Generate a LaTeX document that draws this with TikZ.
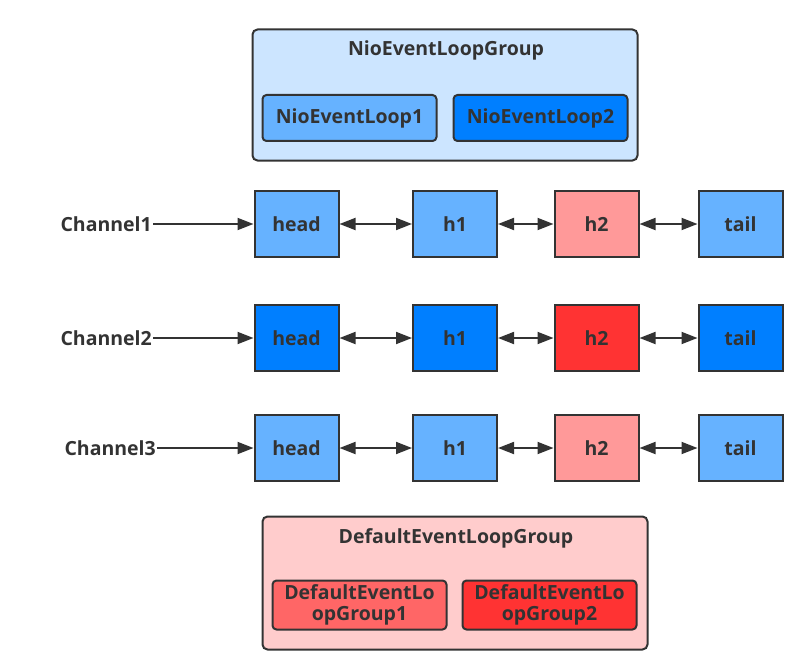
\documentclass[tikz,border=0pt]{standalone}
\usepackage{fontspec}
\setmainfont{Open Sans}
\usetikzlibrary{arrows.meta}
\definecolor{txt}{HTML}{333333}
\definecolor{lblue}{HTML}{66B2FF}
\definecolor{dblue}{HTML}{007FFF}
\definecolor{pblue}{HTML}{CCE5FF}
\definecolor{lred}{HTML}{FF9999}
\definecolor{dred}{HTML}{FF3333}
\definecolor{mred}{HTML}{FF6666}
\definecolor{pred}{HTML}{FFCCCC}
\begin{document}
\begin{tikzpicture}[x=1pt,y=-1pt,
  font=\fontsize{19.5}{21}\selectfont\bfseries, text=txt,
  cell/.style={draw=txt,line width=2pt,minimum width=84pt,minimum height=66pt,inner sep=0pt},
  group/.style={draw=txt,line width=2pt,rounded corners=5pt,inner sep=0pt},
  member/.style={draw=txt,line width=2pt,rounded corners=4pt,inner sep=0pt,align=center},
  chan/.style={inner sep=1pt,anchor=east},
  link/.style={draw=txt,line width=1.8pt,{Triangle[length=16pt,width=12pt]}-{Triangle[length=16pt,width=12pt]}},
  feed/.style={draw=txt,line width=1.8pt,-{Triangle[length=16pt,width=12pt]}}
]
\useasboundingbox (0,0) rectangle (811,658);
% top group
\node[group,fill=pblue,minimum width=385pt,minimum height=131pt] (nig) at (445,95) {};
\node (nigt) at (446,50) {NioEventLoopGroup};
\node[member,fill=lblue,minimum width=174pt,minimum height=46pt] (nel1) at (349.5,118) {NioEventLoop1};
\node[member,fill=dblue,minimum width=174pt,minimum height=46pt] (nel2) at (540.5,118) {NioEventLoop2};
% rows
\foreach \r/\y/\cx/\ca/\cb in {1/224/153/lblue/lred, 2/338/153/dblue/dred, 3/448/157/lblue/lred}{
  \node[chan] (ch\r) at (\cx,\y) {Channel\r};
  \node[cell,fill=\ca] (head\r) at (296.5,\y) {head};
  \node[cell,fill=\ca] (ha\r) at (455,\y) {h1};
  \node[cell,fill=\cb] (hb\r) at (596.5,\y) {h2};
  \node[cell,fill=\ca] (tail\r) at (740.5,\y) {tail};
  \draw[feed] (ch\r) -- (head\r);
  \draw[link] (head\r) -- (ha\r);
  \draw[link] (ha\r) -- (hb\r);
  \draw[link] (hb\r) -- (tail\r);
}
% bottom group
\node[group,fill=pred,minimum width=385pt,minimum height=133pt] (deg) at (455,583) {};
\node (degt) at (456,538) {DefaultEventLoopGroup};
\node[member,fill=mred,minimum width=174pt,minimum height=49pt] (del1) at (359.5,605) {DefaultEventLo\\opGroup1};
\node[member,fill=dred,minimum width=174pt,minimum height=49pt] (del2) at (549.5,605) {DefaultEventLo\\opGroup2};
\end{tikzpicture}
\end{document}
